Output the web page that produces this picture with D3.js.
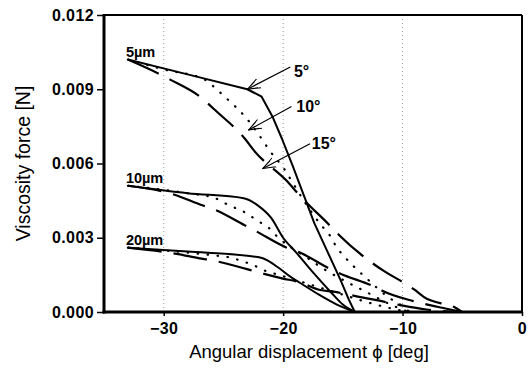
<!DOCTYPE html>
<html>
<head>
<meta charset="utf-8">
<script src="https://cdn.jsdelivr.net/npm/d3@7"></script>
<style>
  body { margin: 0; background: #fff; }
  text { font-family: "Liberation Sans", Arial, sans-serif; fill: #000; }
</style>
</head>
<body>
<svg id="plot"></svg>
<script>
// angular displacement [deg] / viscosity force [N]
const s5Solid = [[-33, 0.0102], [-28, 0.0096], [-23, 0.0090], [-21.8, 0.0087], [-20.9, 0.0079], [-20.1, 0.0070], [-19.2, 0.0059], [-18.3, 0.00475], [-17.4, 0.0036], [-16.3, 0.00245], [-15.2, 0.0013], [-14.5, 0.0005], [-14, 0]];
const s5Dotted = [[-33, 0.0102], [-30, 0.0098], [-26.6, 0.0094], [-25.8, 0.0091], [-24.9, 0.0087], [-24.0, 0.0083], [-23.2, 0.0079], [-21.8, 0.0070], [-21.1, 0.0065], [-19.8, 0.0057], [-19.3, 0.0053], [-16.8, 0.0035], [-16.1, 0.0031], [-15.5, 0.0026], [-14.8, 0.0022], [-14.0, 0.0018], [-13.1, 0.0014], [-12.2, 0.0010], [-11.2, 0.0006], [-10.2, 0.0003], [-9.4, 0]];
const s5Dashed = [[-33, 0.0102], [-29.5, 0.0094], [-26.7, 0.0086], [-25.8, 0.0082], [-23.2, 0.0070], [-22.4, 0.0065], [-19.7, 0.0053], [-18.6, 0.0047], [-16.1, 0.0035], [-15.3, 0.0031], [-12.6, 0.0020], [-11.7, 0.0017], [-9.0, 0.0009], [-8.2, 0.0006], [-5.5, 0.00015], [-5, 0]];

const s10Solid = [[-33, 0.0051], [-28, 0.0048], [-23.3, 0.0046], [-22.1, 0.0043], [-21.0, 0.0038], [-20.0, 0.0030], [-18.9, 0.0024], [-17.5, 0.0016], [-16, 0.0008], [-15, 0.0003], [-14, 0]];
const s10Dotted = [[-33, 0.0051], [-28, 0.0048], [-25.7, 0.0046], [-24.9, 0.0044], [-24.0, 0.0042], [-23.1, 0.0040], [-22.2, 0.0037], [-21.2, 0.0034], [-20.4, 0.0030], [-19.6, 0.0027], [-18, 0.0022], [-16.8, 0.0018], [-15, 0.0013], [-13, 0.0008], [-11, 0.0003], [-9.5, 0]];
const s10Dashed = [[-33, 0.0051], [-29.5, 0.0048], [-26.7, 0.0043], [-25.8, 0.00415], [-23.2, 0.0035], [-22.4, 0.0033], [-19.7, 0.0026], [-18.6, 0.0024], [-15.9, 0.0017], [-15.2, 0.00155], [-12.1, 0.00096], [-11.7, 0.00086], [-9.1, 0.00044], [-7, 0.0002], [-5.5, 0.00005], [-5, 0]];

const s20Solid = [[-33, 0.0026], [-28, 0.00244], [-22.8, 0.00226], [-21.7, 0.00217], [-20.5, 0.00183], [-19.4, 0.00143], [-18.3, 0.00109], [-17, 0.0007], [-15.5, 0.0003], [-14, 0]];
const s20Dotted = [[-33, 0.0026], [-28, 0.0024], [-25.3, 0.00226], [-24.3, 0.00219], [-23.5, 0.00206], [-22.5, 0.0019], [-21.7, 0.0017], [-20.8, 0.00156], [-19, 0.0013], [-17, 0.0010], [-15, 0.0007], [-13, 0.0004], [-11, 0.00015], [-9.5, 0]];
const s20Dashed = [[-33, 0.0026], [-28.8, 0.00234], [-27.0, 0.00217], [-26.1, 0.0021], [-23.3, 0.00177], [-22.8, 0.0017], [-20.1, 0.00136], [-18.6, 0.0012], [-16.9, 0.00089], [-15.8, 0.00082], [-13.4, 0.00059], [-12.5, 0.00051], [-10.2, 0.00028], [-8, 0.0001], [-5.5, 0]];

const xTicks = [-30, -20, -10, 0];
const yTicks = [0, 0.003, 0.006, 0.009, 0.012];
const gapLabels = ["5\u00b5m", "10\u00b5m", "20\u00b5m"];
const angleLabels = ["5\u00b0", "10\u00b0", "15\u00b0"];
// arrow tail, arrow tip and label anchor for each angle, in data units
const angleArrows = [
  { from: [-19.4, 0.0099], to: [-23.0, 0.0090], at: [-19.1, 0.0095] },
  { from: [-19.3, 0.0083], to: [-22.9, 0.00735], at: [-18.9, 0.0081] },
  { from: [-17.75, 0.0068], to: [-21.7, 0.0058], at: [-17.6, 0.0066] }
];

const W = 529, H = 372;
const margin = { top: 15, left: 104, right: 7, bottom: 60 };
const width = W - margin.left - margin.right;
const height = H - margin.top - margin.bottom;

const svg = d3.select("#plot").attr("width", W).attr("height", H);
const g = svg.append("g").attr("transform", `translate(${margin.left},${margin.top})`);

const x = d3.scaleLinear().domain([-35, 0]).range([0, width]);
const y = d3.scaleLinear().domain([0, 0.012]).range([height, 0]);

// dotted vertical grid
g.append("g")
  .selectAll("line")
  .data(xTicks.filter((d) => d !== 0))
  .join("line")
  .attr("x1", (d) => x(d)).attr("x2", (d) => x(d))
  .attr("y1", 0).attr("y2", height)
  .attr("stroke", "#999")
  .attr("stroke-width", 1)
  .attr("stroke-dasharray", "1,3");

const xAxis = g.append("g")
  .attr("transform", `translate(0,${height})`)
  .call(d3.axisBottom(x).tickValues(xTicks).tickSize(4).tickPadding(7));
const yAxis = g.append("g")
  .call(d3.axisLeft(y).tickValues(yTicks).tickSize(7).tickPadding(3).tickFormat(d3.format(".3f")));

[xAxis, yAxis].forEach((a) => {
  a.select(".domain").remove();
  a.selectAll("line").attr("stroke", "#000").attr("stroke-width", 1.5);
  a.selectAll("text")
    .attr("font-family", "Liberation Sans, Arial, sans-serif")
    .attr("font-size", 16)
    .attr("font-weight", "bold")
    .attr("letter-spacing", 0.4);
});
xAxis.selectAll("text").text((d) => (d < 0 ? "\u2212" + Math.abs(d) : d));

// frame
g.append("line").attr("x1", 0).attr("x2", width).attr("y1", 0).attr("y2", 0).attr("stroke", "#000").attr("stroke-width", 2);
g.append("line").attr("x1", width).attr("x2", width).attr("y1", 0).attr("y2", height).attr("stroke", "#000").attr("stroke-width", 2);
g.append("line").attr("x1", 0).attr("x2", 0).attr("y1", -1).attr("y2", height + 1.5).attr("stroke", "#000").attr("stroke-width", 3);
g.append("line").attr("x1", -1.5).attr("x2", width + 1).attr("y1", height).attr("y2", height).attr("stroke", "#000").attr("stroke-width", 3);

const smooth = d3.line().x((d) => x(d[0])).y((d) => y(d[1])).curve(d3.curveMonotoneX);
const sharp = d3.line().x((d) => x(d[0])).y((d) => y(d[1]));

const styles = {
  solid: { dash: null, w: 2, cap: "butt" },
  dotted: { dash: "0.5,9.5", w: 2.2, cap: "round" },
  dashed: { dash: "34,12", w: 2.2, cap: "butt" }
};
const series = [
  [s5Solid, "solid", sharp], [s5Dotted, "dotted", smooth], [s5Dashed, "dashed", smooth],
  [s10Solid, "solid", smooth], [s10Dotted, "dotted", smooth], [s10Dashed, "dashed", smooth],
  [s20Solid, "solid", smooth], [s20Dotted, "dotted", smooth], [s20Dashed, "dashed", smooth]
];

g.append("g")
  .selectAll("path")
  .data(series)
  .join("path")
  .attr("d", (d) => d[2](d[0]))
  .attr("fill", "none")
  .attr("stroke", "#000")
  .attr("stroke-width", (d) => styles[d[1]].w)
  .attr("stroke-linecap", (d) => styles[d[1]].cap)
  .attr("stroke-linejoin", "round")
  .attr("stroke-dasharray", (d) => styles[d[1]].dash);

// gap labels at the start of each group
const starts = [s5Solid[0], s10Solid[0], s20Solid[0]];
g.append("g")
  .selectAll("text")
  .data(starts)
  .join("text")
  .attr("x", (d) => x(d[0]) - 2)
  .attr("y", (d) => y(d[1]) - 3)
  .attr("font-size", 14.5)
  .attr("font-weight", "bold")
  .text((d, i) => gapLabels[i]);

// arrow head
svg.append("defs").append("marker")
  .attr("id", "arr")
  .attr("viewBox", "0 -6 14 12")
  .attr("refX", 13).attr("refY", 0)
  .attr("markerWidth", 14).attr("markerHeight", 12)
  .attr("markerUnits", "userSpaceOnUse")
  .attr("orient", "auto")
  .append("path")
  .attr("d", "M0,-5L13,0L0,5M3,-3.5L13,0L3,3.5")
  .attr("fill", "none")
  .attr("stroke", "#000")
  .attr("stroke-width", 1);

const ann = g.append("g");
ann.selectAll("line")
  .data(angleArrows)
  .join("line")
  .attr("x1", (d) => x(d.from[0])).attr("y1", (d) => y(d.from[1]))
  .attr("x2", (d) => x(d.to[0])).attr("y2", (d) => y(d.to[1]))
  .attr("stroke", "#000")
  .attr("stroke-width", 1.2)
  .attr("marker-end", "url(#arr)");
ann.selectAll("text")
  .data(angleArrows)
  .join("text")
  .attr("x", (d) => x(d.at[0]))
  .attr("y", (d) => y(d.at[1]))
  .attr("font-size", 16)
  .attr("font-weight", "bold")
  .text((d, i) => angleLabels[i]);

// axis titles
svg.append("text")
  .attr("x", margin.left + width / 2 - 4)
  .attr("y", H - 14)
  .attr("text-anchor", "middle")
  .attr("font-size", 18.5)
  .text("Angular displacement \u03d5 [deg]");
svg.append("text")
  .attr("transform", `translate(30,${margin.top + height / 2}) rotate(-90)`)
  .attr("text-anchor", "middle")
  .attr("font-size", 19.5)
  .text("Viscosity force [N]");
</script>
</body>
</html>
